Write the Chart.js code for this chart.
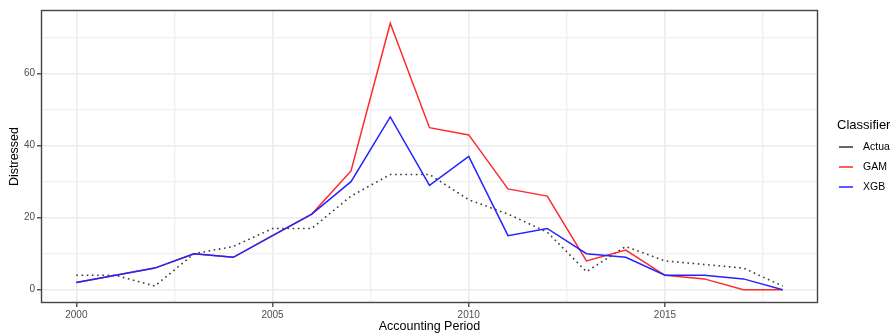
<!DOCTYPE html>
<html>
<head>
<meta charset="utf-8">
<script src="https://cdn.jsdelivr.net/npm/chart.js@4.4.1/dist/chart.umd.min.js"></script>
<style>
html,body{margin:0;padding:0;background:#fff;}
canvas{display:block;}
</style>
</head>
<body>
<canvas id="c" width="890" height="336"></canvas>
<script>
const years  = [2000,2001,2002,2003,2004,2005,2006,2007,2008,2009,2010,2011,2012,2013,2014,2015,2016,2017,2018];
const actual = [4,4,1,10,12,17,17,26,32,32,25,21,16,5,12,8,7,6,1];
const gam    = [2,4,6,10,9,15,21,33,74,45,43,28,26,8,11,4,3,0,0];
const xgb    = [2,4,6,10,9,15,21,30,48,29,37,15,17,10,9,4,4,3,0];
const xTicks = [2000,2002.5,2005,2007.5,2010,2012.5,2015,2017.5];
const yTicks = [0,10,20,30,40,50,60,70];
const seriesNames = ['Actual','GAM','XGB'];
const seriesColors = ['#333333','#FF2A2A','#2424FF'];

const FONT = "'Liberation Sans', Arial, sans-serif";

const pts = arr => years.map((y,i)=>({x:y,y:arr[i]}));

const panelBorder = {
  id:'panelBorder',
  afterDraw(chart){
    const {ctx, chartArea:a} = chart;
    ctx.save();
    ctx.strokeStyle = '#444444';
    ctx.lineWidth = 1.4;
    ctx.strokeRect(a.left+0.5, a.top+0.5, a.right-a.left-1, a.bottom-a.top-1);
    ctx.restore();
  }
};

const customLegend = {
  id:'customLegend',
  afterDraw(chart){
    const ctx = chart.ctx;
    ctx.save();
    ctx.fillStyle = '#000';
    ctx.font = "13px " + FONT;
    ctx.textBaseline = 'middle';
    ctx.textAlign = 'left';
    ctx.fillText('Classifier', 837, 125);
    ctx.font = "10.5px " + FONT;
    seriesNames.forEach((n,i)=>{
      const y = 147 + i*20;
      ctx.strokeStyle = seriesColors[i];
      ctx.lineWidth = 1.5;
      ctx.setLineDash([]);
      ctx.beginPath();
      ctx.moveTo(839, y);
      ctx.lineTo(853, y);
      ctx.stroke();
      ctx.fillStyle = '#000';
      ctx.fillText(n, 863, y);
    });
    ctx.restore();
  }
};

const isMajorX = c => c.tick && c.tick.value % 5 === 0;
const isMajorY = c => c.tick && c.tick.value % 20 === 0;

new Chart(document.getElementById('c'), {
  type:'line',
  data:{
    datasets:[
      {label:seriesNames[2], data:pts(xgb), borderColor:seriesColors[2], borderWidth:1.5, pointRadius:0, order:0},
      {label:seriesNames[1], data:pts(gam), borderColor:seriesColors[1], borderWidth:1.5, pointRadius:0, order:1},
      {label:seriesNames[0], data:pts(actual), borderColor:'#3a3a3a', borderWidth:1.6, borderDash:[1.6,3.6], borderCapStyle:'butt', pointRadius:0, order:2}
    ]
  },
  options:{
    responsive:false,
    devicePixelRatio:1,
    animation:false,
    layout:{padding:{left:0,right:72,top:10,bottom:0}},
    plugins:{legend:{display:false}, tooltip:{enabled:false}},
    scales:{
      x:{
        type:'linear',
        min:1999.1, max:2018.9,
        afterBuildTicks(s){ s.ticks = xTicks.map(v=>({value:v})); },
        afterFit(s){ s.height = 33; },
        border:{display:false},
        grid:{
          color:c=> isMajorX(c) ? '#EBEBEB' : '#EFEFEF',
          lineWidth:c=> isMajorX(c) ? 1.6 : 1.3,
          tickColor:c=> isMajorX(c) ? '#333333' : 'rgba(0,0,0,0)',
          tickLength:4, tickWidth:1.2
        },
        ticks:{
          autoSkip:false, maxRotation:0,
          color:'#4D4D4D', font:{family:FONT, size:10}, padding:2,
          callback:v=> v%5===0 ? String(v) : ''
        },
        title:{display:true, text:'Accounting Period', color:'#000', font:{family:FONT,size:12.5}, padding:{top:0,bottom:1.5}}
      },
      y:{
        type:'linear',
        min:-3.7, max:77.7,
        afterBuildTicks(s){ s.ticks = yTicks.map(v=>({value:v})); },
        afterFit(s){ s.width = 41; },
        border:{display:false},
        grid:{
          color:c=> isMajorY(c) ? '#EBEBEB' : '#EFEFEF',
          lineWidth:c=> isMajorY(c) ? 1.6 : 1.3,
          tickColor:c=> isMajorY(c) ? '#333333' : 'rgba(0,0,0,0)',
          tickLength:4, tickWidth:1.2
        },
        ticks:{
          autoSkip:false,
          color:'#4D4D4D', font:{family:FONT, size:10}, padding:2,
          callback:v=> v%20===0 ? String(v) : ''
        },
        title:{display:true, text:'Distressed', color:'#000', font:{family:FONT,size:12.5}, padding:{top:7,bottom:0}}
      }
    }
  },
  plugins:[panelBorder, customLegend]
});
</script>
</body>
</html>
